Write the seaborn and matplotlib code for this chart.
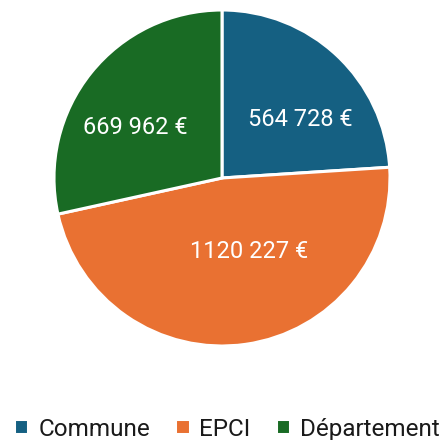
import matplotlib
matplotlib.use("Agg")
import matplotlib.pyplot as plt
import seaborn as sns

categories = ["Commune", "EPCI", "Département"]
values = [564728, 1120227, 669962]
colors = ["#156082", "#E97132", "#196B24"]
# label positions in pie-radius units (Excel "best fit" placement)
label_x = [0.464, 0.164, -0.518]
label_y = [0.351, -0.440, 0.298]

sns.set_theme(style="white")
plt.rcParams["font.family"] = ["Roboto", "DejaVu Sans"]

W, H = 444, 440
fig = plt.figure(figsize=(W / 100, H / 100), dpi=100)
cx, cy, R = 222, 178, 168
ax = fig.add_axes([(cx - R) / W, (H - cy - R) / H, 2 * R / W, 2 * R / H])

wedges, _ = ax.pie(values, colors=colors, startangle=90, counterclock=False,
                   radius=1, wedgeprops=dict(edgecolor="white", linewidth=2.2))
ax.set_xlim(-1, 1)
ax.set_ylim(-1, 1)
ax.set_aspect("equal")
ax.axis("off")

for v, x, y in zip(values, label_x, label_y):
    txt = f"{v // 1000} {v % 1000:03d} €"
    ax.text(x, y, txt, ha="center", va="center", color="white", fontsize=17)

fig.legend(wedges, categories, loc="center", bbox_to_anchor=(227 / W, 1 - 429 / H),
           ncol=3, frameon=False, fontsize=17.5, handlelength=0.58, handleheight=0.58,
           handletextpad=0.4, columnspacing=1.05, labelcolor="#1a1a1a",
           borderpad=0, borderaxespad=0)

fig.savefig("out.png", dpi=100)
